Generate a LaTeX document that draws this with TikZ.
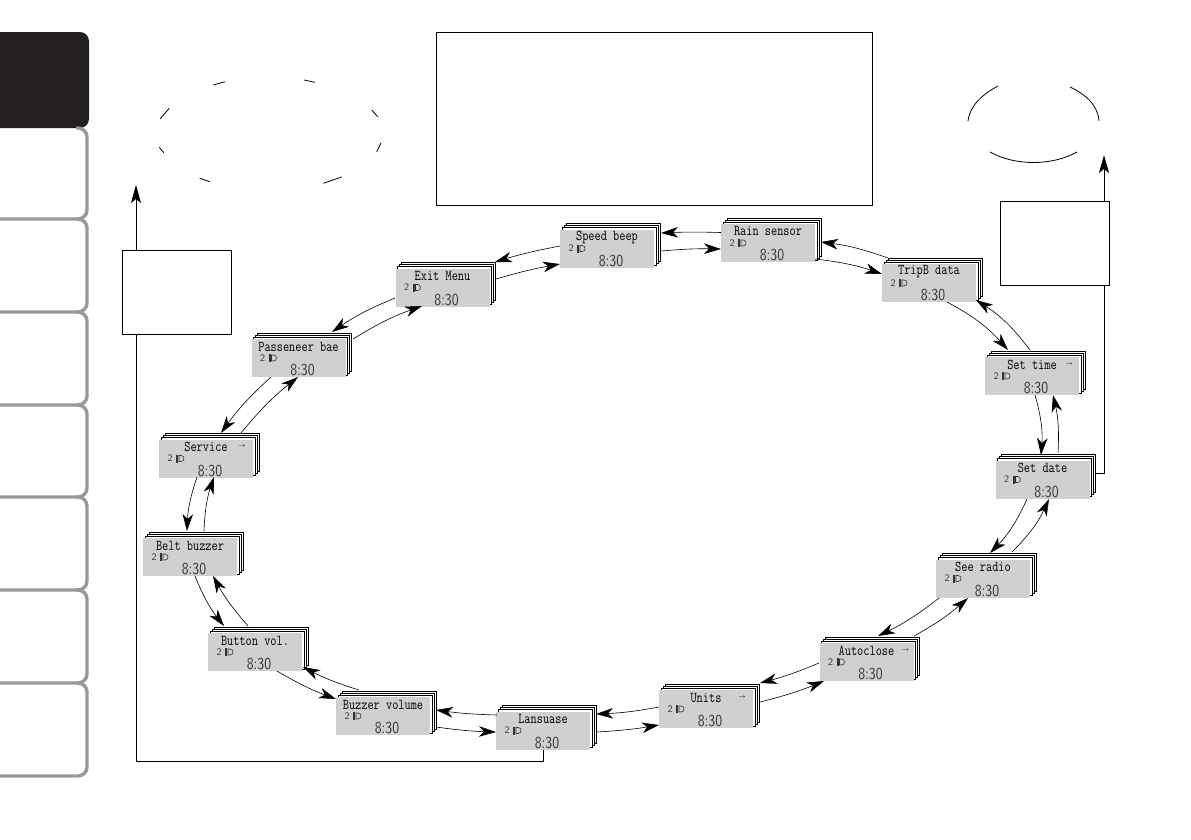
\documentclass[tikz,border=0pt]{standalone}
\usetikzlibrary{arrows.meta}
\definecolor{tab_gray}{HTML}{97999B}
\definecolor{tab_black}{HTML}{231F20}
\definecolor{lcd_gray}{HTML}{CFD0D2}
\definecolor{lcd_ink}{HTML}{333333}
\tikzset{tab_line/.style={draw=tab_gray, line width=3.4pt, rounded corners=9pt}}
\tikzset{text_box/.style={inner sep=0pt, outer sep=0pt, rectangle, fill=white, draw=black, line width=1pt}}
\tikzset{panel_sheet/.style={inner sep=0pt, outer sep=0pt, minimum width=94pt, minimum height=38pt, rectangle, fill=white, draw=black, line width=0.9pt}}
\tikzset{panel_face/.style={inner sep=0pt, outer sep=0pt, minimum width=94pt, minimum height=38pt, rectangle, fill=lcd_gray}}
\tikzset{panel_title/.style={inner sep=0pt, font=\fontsize{12}{12}\ttfamily, text=black, yscale=1.25, transform shape}}
\tikzset{panel_count/.style={inner sep=0pt, font=\fontsize{10}{10}\sffamily, text=lcd_ink}}
\tikzset{panel_clock/.style={inner sep=0pt, font=\fontsize{14}{14}\sffamily, text=lcd_ink, yscale=1.2, transform shape}}
\tikzset{panel_more/.style={inner sep=0pt, font=\fontsize{6}{6}\selectfont, text=black}}
\tikzset{panel_lamp/.style={draw=lcd_ink, line width=0.6pt}}
\tikzset{menu_link/.style={line width=0.6pt, -{Stealth[length=17pt,width=10.5pt,inset=5pt]}}}
\tikzset{frame_link/.style={line width=1pt, -{Stealth[length=18pt,width=10pt,inset=4pt]}}}
\tikzset{frame_line/.style={line width=1pt}}
\tikzset{wrap_mark/.style={line width=0.8pt}}

\begin{document}
\begin{tikzpicture}[x=1pt,y=-1pt]
    \useasboundingbox (0,0) rectangle (1191,839);
    \fill[tab_black, rounded corners=9pt] (-12,32) rectangle (89,128);
    \foreach \top/\bot in {128/219,219/312,312/405,405/497,497/590,590/683,683/776}{
      \draw[tab_line] (76,\top) -| (87,\bot) -- (0,\bot);
    }

    \node[text_box, minimum width=436pt, minimum height=173pt] (top_box) at (654,118.5) {};
    \node[text_box, minimum width=109pt, minimum height=84pt] (left_box) at (176.5,292) {};
    \node[text_box, minimum width=109pt, minimum height=84pt] (right_box) at (1054.5,243) {};

    \draw[wrap_mark] (213.3,85)--(225,81.7) (304,80)--(315,82.3) (169.3,108.3)--(160.3,118.7) (371.7,110)--(377.7,116.7)
      (159.3,147.3)--(163.7,152.7) (381,143)--(376.7,151.7) (199.7,178.3)--(210,181.7) (323.3,183.3)--(341.7,177);
    \draw[wrap_mark] (968,121) .. controls (970,105) and (983,94) .. (998,86);
    \draw[wrap_mark] (1070,87) .. controls (1085,94) and (1098,105) .. (1099,121);
    \draw[wrap_mark] (990,152) .. controls (1015,166) and (1052,166) .. (1077,152);

    \foreach \name/\x/\y/\txt in {speed/607/248.5/Speed beep, rain/768/243/Rain sensor, trip/929/283/TripB data,
      settime/1032/376/Set time, setdate/1042.5/479.5/Set date, radio/983/578.5/See radio,
      autoclose/866.5/662/Autoclose, units/706/709/Units, language/543/730.5/Lansuase,
      buzzer/383/716/Buzzer volume, button/255/652/Button vol., belt/190/557/Belt buzzer,
      service/206/458.5/Service, passbag/298.5/358/Passeneer bae, exitmenu/442.5/287.5/Exit Menu}{
      \begin{scope}[shift={(\x,\y)}]
        \foreach \k in {6,4,2}{
          \node[panel_sheet] (\name_sheet\k) at (\k,-\k) {};
        }
        \node[panel_face] (\name) at (0,0) {};
        \node[panel_title] (\name_title) at (0,-11.5) {\txt};
        \node[panel_count] (\name_count) at (-36,0) {2};
        \draw[panel_lamp] (-29.5,-4)--(-29.5,4) (-28.3,-4)--(-28.3,4);
        \draw[panel_lamp] (-27,-3)--(-25,-3) .. controls (-21,-3) and (-21,3) .. (-25,3)--(-27,3)--cycle;
        \node[panel_clock] (\name_clock) at (4,12) {8:30};
      \end{scope}
    }

    \node[panel_more] (settime_more) at ([shift={(37,-12)}]settime.center) {$\rightarrow$};
    \node[panel_more] (service_more) at ([shift={(36,-12)}]service.center) {$\rightarrow$};
    \node[panel_more] (units_more) at ([shift={(36,-12)}]units.center) {$\rightarrow$};
    \node[panel_more] (autoclose_more) at ([shift={(39,-12)}]autoclose.center) {$\rightarrow$};

    \foreach \src/\sx/\sy/\dst/\dx/\dy/\bnd in {
      rain/-47/-10.5/speed/54/-15.5/-2, speed/54/2.5/rain/-47/6/3,
      trip/-41/-25/rain/53/-1/-6, rain/47/16/trip/-47/-9/6,
      trip/18/19/settime/-24/-26/10, settime/-2/-26/trip/47/17/-10,
      settime/3/19/setdate/-1.5/-24.5/10, setdate/15.5/-26.5/settime/21/19/-8,
      setdate/-15.5/19.5/radio/7/-25.5/10, radio/29/-26.5/setdate/6.5/19.5/-10,
      radio/-44/19.5/autoclose/11.5/-26/6, autoclose/47.5/-26/radio/-15/19.5/-6,
      autoclose/-47.5/1/units/54/-26/4, units/54/-7/autoclose/-42.5/19/-4,
      units/-47/-2/language/53/-16.5/4, language/54/1.5/units/-47/16/-3,
      language/-46/-15.5/buzzer/53/-6/3, buzzer/53/11/language/-47/1.5/-3,
      buzzer/-24/-26/button/48/15/5, button/22/19/buzzer/-47/-17/-5,
      button/-7/-26/belt/23/19/6, belt/5/19/button/-31/-26/-8,
      belt/14/-26/service/8/18.5/8, service/-9/18.5/belt/-3/-26/-8,
      service/35/-25.5/passbag/-0.5/19/6, passbag/-27.5/19/service/15/-25.5/-6,
      passbag/54.5/-19/exitmenu/-20.5/18.5/6, exitmenu/-47.5/10.5/passbag/33.5/-26/-6,
      exitmenu/53.5/-8.5/speed/-47/15.5/3, speed/-47/-2.5/exitmenu/52.5/-25.5/-3}{
      \draw[menu_link] ([shift={(\sx,\sy)}]\src.center) to[bend left=\bnd] ([shift={(\dx,\dy)}]\dst.center);
    }

    \coordinate (left_tip) at (136,185);
    \coordinate (right_tip) at (1104,155);
    \draw[frame_line] (language.south) |- ([shift={(0,12)}]language.south) -| ([xshift=14pt]left_box.south west);
    \draw[frame_link] ([xshift=14pt]left_box.north west) -- (left_tip);
    \draw[frame_line] ([shift={(53,-6.5)}]setdate.center) -| ([xshift=-5pt]right_box.south east);
    \draw[frame_link] ([xshift=-5pt]right_box.north east) -- (right_tip);
  \end{tikzpicture}
\end{document}
